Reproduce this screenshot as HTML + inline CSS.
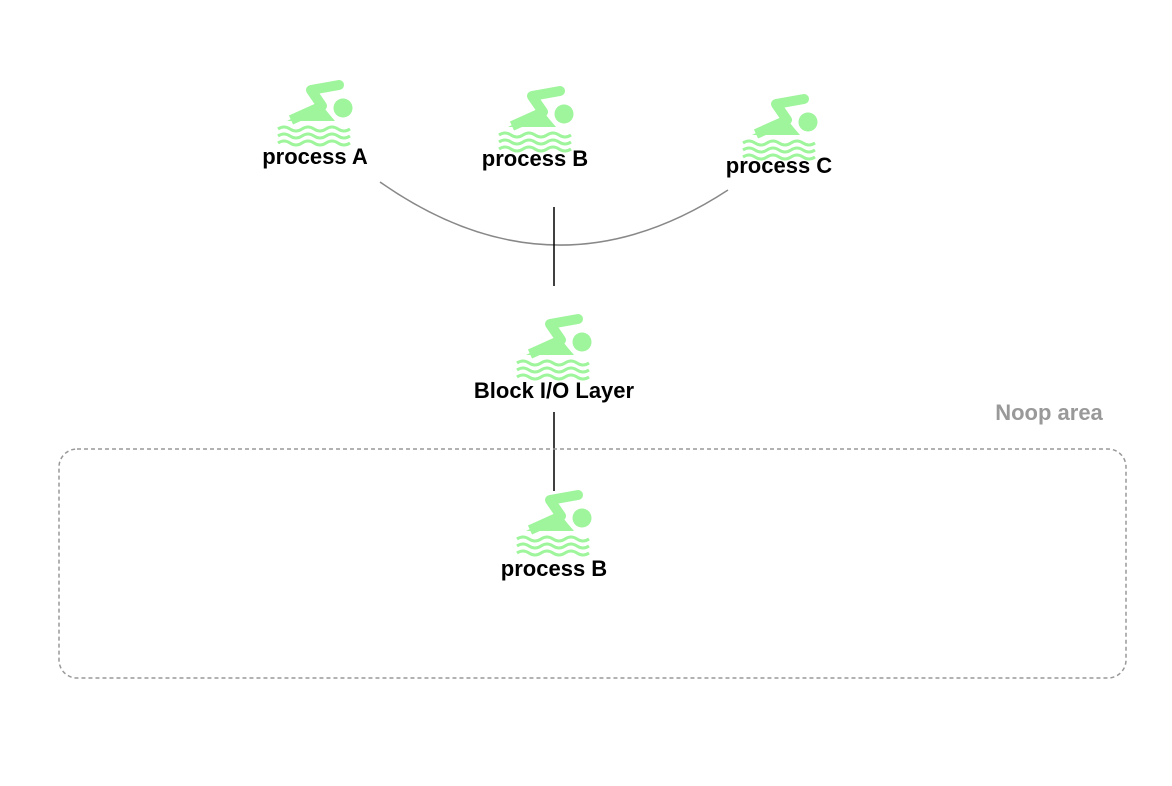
<!DOCTYPE html>
<html><head><style>
body{margin:0;background:#fff;}
svg{display:block}
text{font-family:"Liberation Sans",sans-serif;}
</style></head><body>
<svg width="1172" height="786" viewBox="0 0 1172 786">
<defs>
<g id="sw" fill="#9ef59b" stroke="#9ef59b">
  <path d="M34 8 L62 3" stroke-width="10" stroke-linecap="round" fill="none"/>
  <path d="M34 8 L45 24 L14 38" stroke-width="10" stroke-linejoin="round" fill="none"/>
  <polygon points="10,39 44,22 52,32 58,39" stroke="none"/>
  <circle cx="66" cy="26" r="9.5" stroke="none"/>
  <path d="M1 47 q6 -4 12 0 t12 0 t12 0 t12 0 t12 0 t12 0 M1 54 q6 -4 12 0 t12 0 t12 0 t12 0 t12 0 t12 0 M1 61 q6 -4 12 0 t12 0 t12 0 t12 0 t12 0 t12 0" stroke-width="3" fill="none"/>
</g>
</defs>
<path d="M380 182 Q554 304 728 190" stroke="#888" stroke-width="1.5" fill="none"/>
<line x1="554" y1="207" x2="554" y2="286" stroke="#000" stroke-width="1.5"/>
<line x1="554" y1="412" x2="554" y2="491" stroke="#000" stroke-width="1.5"/>
<rect x="59" y="449" width="1067" height="229" rx="18" fill="none" stroke="#999" stroke-width="1.5" stroke-dasharray="4,3"/>
<use href="#sw" x="277" y="82"/>
<use href="#sw" x="498" y="88"/>
<use href="#sw" x="742" y="96"/>
<use href="#sw" x="516" y="316"/>
<use href="#sw" x="516" y="492"/>
<g font-size="22" font-weight="bold" text-anchor="middle" fill="#000">
<text x="315" y="164">process A</text>
<text x="535" y="166">process B</text>
<text x="779" y="173">process C</text>
<text x="554" y="398">Block I/O Layer</text>
<text x="554" y="576">process B</text>
</g>
<text x="1049" y="420" font-size="22" font-weight="bold" fill="#999" text-anchor="middle">Noop area</text>
</svg>
</body></html>
